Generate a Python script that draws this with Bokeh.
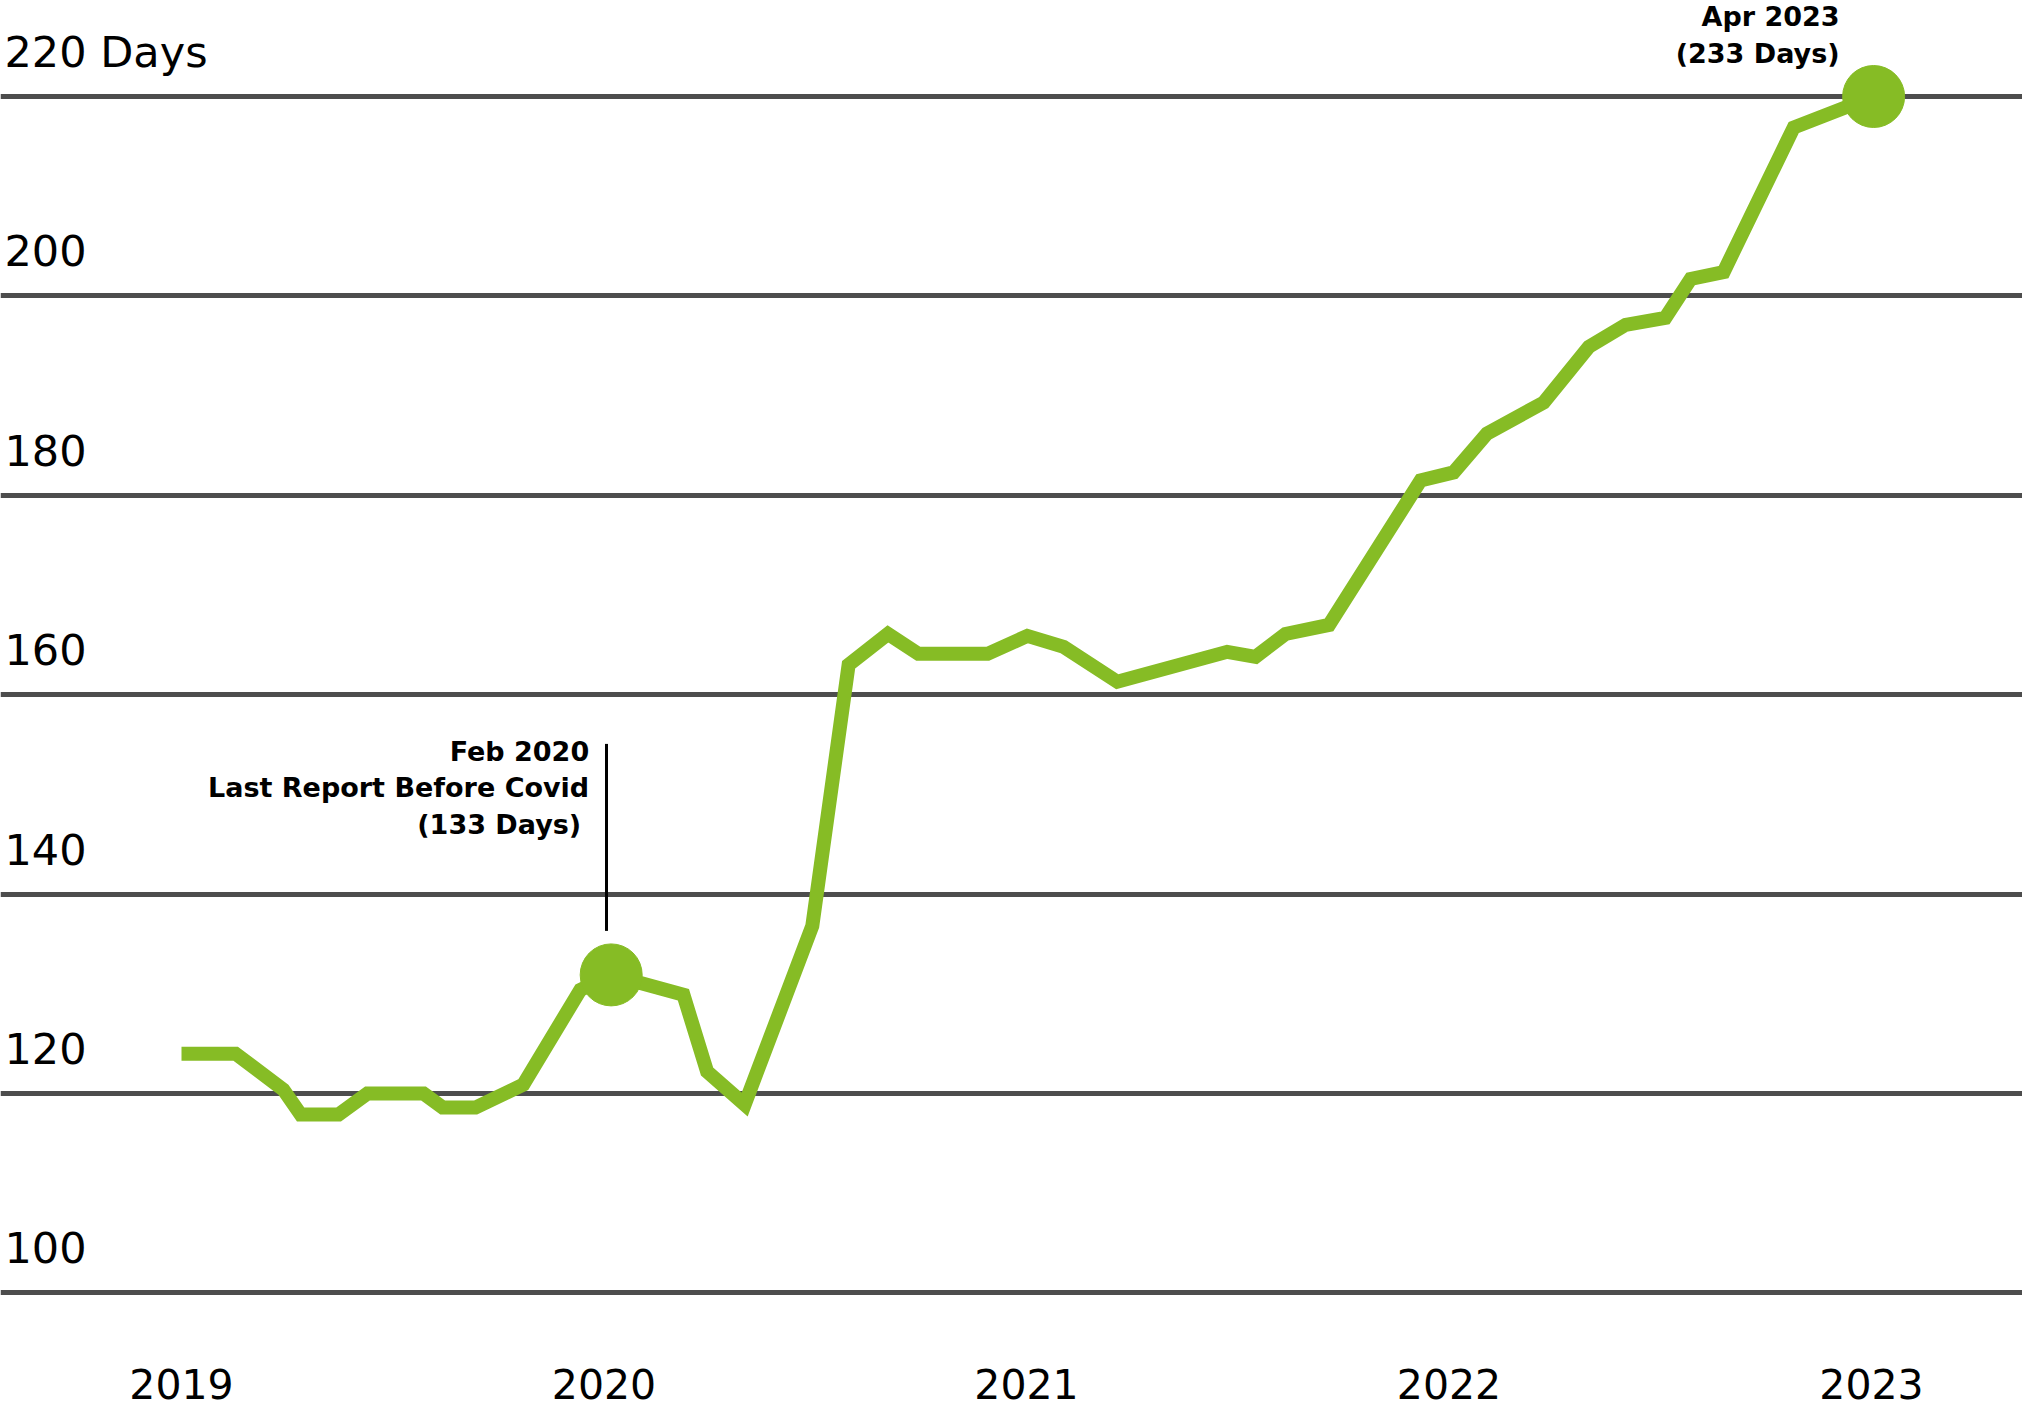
from bokeh.plotting import figure
from bokeh.models import ColumnDataSource, FixedTicker, Label, Range1d
from bokeh.core.properties import value
from bokeh.embed import file_html
from bokeh.resources import INLINE

# ---- data ----
report_year = [2019.000, 2019.128, 2019.241, 2019.282, 2019.372, 2019.440, 2019.573, 2019.618,
               2019.696, 2019.809, 2019.944, 2020.017, 2020.188, 2020.244, 2020.333, 2020.493,
               2020.579, 2020.672, 2020.744, 2020.908, 2021.002, 2021.088, 2021.215, 2021.475,
               2021.542, 2021.613, 2021.716, 2021.933, 2022.011, 2022.090, 2022.224, 2022.331,
               2022.418, 2022.512, 2022.572, 2022.650, 2022.816, 2023.005]
days = [124.0, 124.0, 120.4, 117.9, 117.9, 120.0, 120.0, 118.6,
        118.6, 120.9, 130.4, 131.9, 129.9, 122.2, 118.9, 136.8,
        163.0, 166.1, 164.1, 164.1, 165.9, 164.8, 161.3, 164.3,
        163.8, 166.1, 167.0, 181.5, 182.3, 186.2, 189.3, 194.9,
        197.1, 197.8, 201.7, 202.4, 216.9, 220.0]

year_ticks = [2019, 2020, 2021, 2022, 2023]
year_labels = ["2019", "2020", "2021", "2022", "2023"]
day_ticks = [100, 120, 140, 160, 180, 200, 220]
day_labels = ["100", "120", "140", "160", "180", "200", "220 Days"]

highlight_idx = [11, 37]
feb_lines = ["Feb 2020", "Last Report Before Covid", "(133 Days)"]
apr_lines = ["Apr 2023", "(233 Days)"]

GREEN = "#86BC25"
GRID = "#4d4d4d"
FONT = "DejaVu Sans"

W, H = 2022, 1412
x0, x1 = 2018.5716, 2023.3574
y0, y1 = 88.01, 229.63
px_x = W / (x1 - x0)
px_y = H / (y1 - y0)

p = figure(frame_width=W, frame_height=H, x_range=Range1d(x0, x1), y_range=Range1d(y0, y1),
           output_backend="svg", toolbar_location=None, min_border=0,
           outline_line_color=None, background_fill_color="white", border_fill_color="white")

p.xaxis.visible = False
p.yaxis.visible = False
p.xgrid.visible = False
p.ygrid.ticker = FixedTicker(ticks=day_ticks)
p.ygrid.grid_line_color = GRID
p.ygrid.grid_line_width = 5

# y labels sitting above the grid lines
lab_src = ColumnDataSource(dict(x=[x0] * len(day_ticks),
                                y=[t + 45 / px_y for t in day_ticks],
                                text=day_labels))
p.text(x="x", y="y", text="text", source=lab_src, text_font=value(FONT),
       text_font_size="43px", text_color="black", text_baseline="alphabetic",
       text_align="left", x_offset=4)

# x labels below the lowest grid line
xl_src = ColumnDataSource(dict(x=year_ticks,
                               y=[min(day_ticks) - 91 / px_y] * len(year_ticks),
                               text=year_labels))
p.text(x="x", y="y", text="text", source=xl_src, text_font=value(FONT),
       text_font_size="41px", text_color="black", text_baseline="alphabetic",
       text_align="center")

# main line
p.line(report_year, days, line_color=GREEN, line_width=14, line_join="miter")

# highlighted points
hx = [report_year[i] for i in highlight_idx]
hy = [days[i] for i in highlight_idx]
p.scatter(hx, hy, size=62, fill_color=GREEN, line_color=GREEN)

# Feb 2020 annotation
fx, fy = hx[0], hy[0]
p.segment(x0=[fx - 4.7 / px_x], y0=[fy + 44 / px_y], x1=[fx - 4.7 / px_x], y1=[fy + 231 / px_y],
          line_color="black", line_width=3)
for txt, dy, dx in zip(feb_lines, [223, 187, 150], [-22, -22, -30]):
    p.add_layout(Label(x=fx, y=fy, x_offset=dx, y_offset=dy, text=txt, text_align="right",
                       text_baseline="alphabetic", text_font=FONT, text_font_style="bold",
                       text_font_size="27px", text_color="black"))

# Apr 2023 annotation
ax, ay = hx[1], hy[1]
for txt, dy, dx in zip(apr_lines, [80, 43], [-34, -34]):
    p.add_layout(Label(x=ax, y=ay, x_offset=dx, y_offset=dy, text=txt, text_align="right",
                       text_baseline="alphabetic", text_font=FONT, text_font_style="bold",
                       text_font_size="27px", text_color="black"))

open("out.html", "w").write(file_html(p, INLINE))
